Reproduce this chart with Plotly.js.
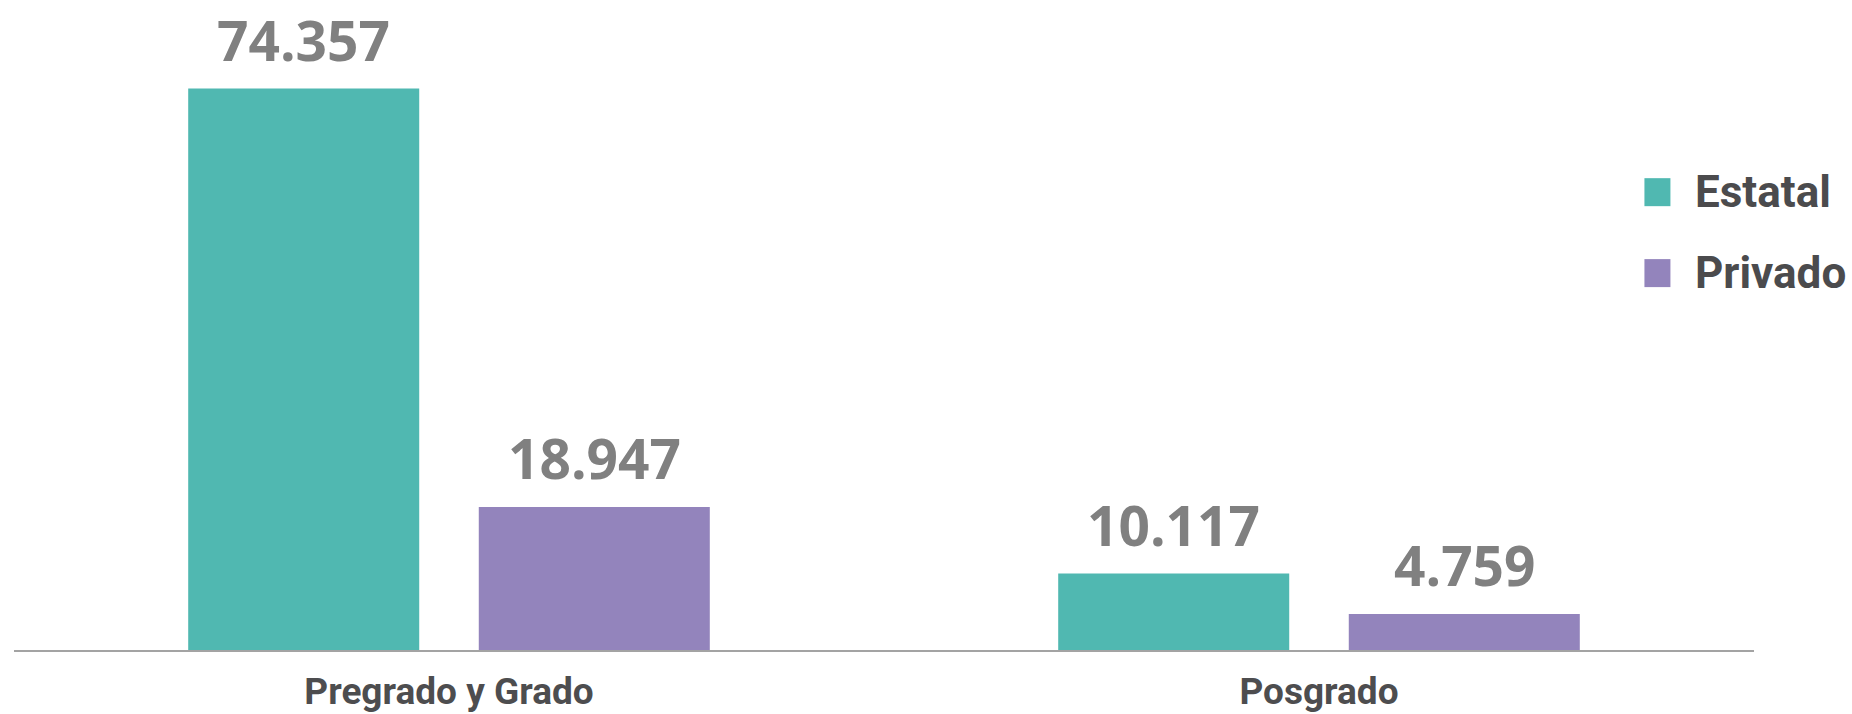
<!DOCTYPE html>
<html>
<head>
<meta charset="utf-8">
<script src="https://cdn.plot.ly/plotly-3.0.1.min.js"></script>
<style>html,body{margin:0;padding:0;background:#fff;}#chart{width:1852px;height:714px;}</style>
</head>
<body>
<div id="chart"></div>
<script>
const categories = ['Pregrado y Grado', 'Posgrado'];
const seriesNames = ['Estatal', 'Privado'];
const estatal = [74357, 10117];
const privado = [18947, 4759];
const seriesColors = ['#50B8B1', '#9384BC'];

const BARGAP = 0.332;
const BARGROUPGAP = 0.205;
const valueFont = {family: 'Open Sans', size: 55, color: '#808080', weight: 'bold'};

function barTrace(name, values, color) {
  return {
    type: 'bar',
    name: name,
    x: categories,
    y: values,
    marker: {color: color},
    hoverinfo: 'skip',
    showlegend: false
  };
}

const seriesValues = [estatal, privado];
const data = seriesValues.map((v, i) => barTrace(seriesNames[i], v, seriesColors[i]));

const fmt = v => String(v).replace(/\B(?=(\d{3})+(?!\d))/g, '.');

const shapes = [], annotations = [];

// value labels above each bar (bar centre derived from group layout)
const slot = (1 - BARGAP) / seriesValues.length;
seriesValues.forEach((vals, s) => {
  const offset = -(1 - BARGAP) / 2 + slot * (s + 0.5);
  vals.forEach((v, c) => {
    annotations.push({
      xref: 'x', yref: 'y', x: c + offset, y: v,
      xanchor: 'center', yanchor: 'bottom', yshift: 11, borderpad: 0,
      showarrow: false, text: fmt(v), font: valueFont
    });
  });
});

// legend
const legendX = 0.9445, legendTextX = 0.9649;
const legendY = [0.758, 0.624];
seriesNames.forEach((n, i) => {
  shapes.push({
    type: 'rect', xref: 'paper', yref: 'paper',
    xsizemode: 'pixel', ysizemode: 'pixel',
    xanchor: legendX, yanchor: legendY[i],
    x0: -13, x1: 13, y0: -14, y1: 14,
    fillcolor: seriesColors[i], line: {width: 0}
  });
  annotations.push({
    xref: 'paper', yref: 'paper', x: legendTextX, y: legendY[i],
    xanchor: 'left', yanchor: 'middle', showarrow: false,
    text: n, yshift: 0,
    font: {family: 'Roboto', size: 44, color: '#4b4b4d', weight: 'bold'}
  });
});

const layout = {
  width: 1852, height: 714,
  margin: {l: 14, r: 98, t: 46, b: 64},
  paper_bgcolor: '#ffffff', plot_bgcolor: '#ffffff',
  barmode: 'group',
  bargap: BARGAP,
  bargroupgap: BARGROUPGAP,
  showlegend: false,
  xaxis: {
    type: 'category',
    range: [-0.5, 1.5],
    showline: true, linecolor: '#a3a3a3', linewidth: 2,
    ticks: '', showgrid: false, zeroline: false,
    ticklabelstandoff: 8,
    tickfont: {family: 'Roboto', size: 37, color: '#4d4d4f', weight: 'bold'},
    fixedrange: true
  },
  yaxis: {
    range: [0, 80000], visible: false, showgrid: false, zeroline: false, fixedrange: true
  },
  shapes: shapes,
  annotations: annotations
};

Plotly.newPlot('chart', data, layout, {displayModeBar: false, staticPlot: true});
</script>
</body>
</html>
